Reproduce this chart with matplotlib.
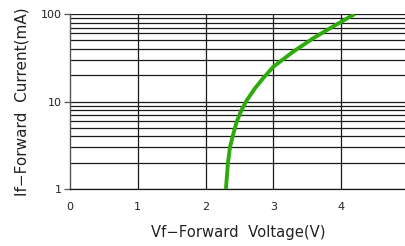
import numpy as np
import matplotlib
matplotlib.use('Agg')
import matplotlib.pyplot as plt

# forward voltage (V) vs forward current (mA)
vf = [2.30, 2.33, 2.36, 2.41, 2.46, 2.53, 2.61, 2.73, 2.85, 3.00, 3.29, 3.59, 3.88, 4.20]
i_f = [1.0, 2.0, 3.0, 4.3, 5.9, 8.0, 10.4, 14.2, 18.5, 25.0, 37.0, 53.0, 72.0, 100.0]

x_ticks = [0, 1, 2, 3, 4]
y_ticks = [1, 10, 100]
y_minor = [m * d for d in (1, 10) for m in range(2, 10)]

fig = plt.figure(figsize=(4.06, 2.46), dpi=100)
ax = fig.add_axes([0.1724, 0.2317, 0.8276, 0.7113])

ax.set_yscale('log')
ax.set_xlim(0, 4.956)
ax.set_ylim(1, 100)

# grid
for y in y_ticks + y_minor:
    ax.axhline(y, color='#1a1a1a', lw=0.9, zorder=1)
for x in x_ticks[1:]:
    ax.axvline(x, color='#1a1a1a', lw=0.9, zorder=1)

ax.plot(vf, i_f, color='#2eaa0a', lw=2.8, solid_capstyle='butt', zorder=3)

ax.set_xticks(x_ticks)
ax.set_xticklabels([str(t) for t in x_ticks])
ax.set_yticks(y_ticks)
ax.set_yticklabels([str(t) for t in y_ticks])
ax.yaxis.set_minor_locator(matplotlib.ticker.NullLocator())
ax.tick_params(axis='x', length=0, pad=9, labelsize=8, labelcolor='#222222')
ax.tick_params(axis='y', length=4, width=0.9, color='#555555', pad=2, labelsize=8,
               labelcolor='#222222')

for s in ['top', 'right']:
    ax.spines[s].set_visible(False)
ax.spines['left'].set_color('#555555')
ax.spines['left'].set_linewidth(1.0)
ax.spines['bottom'].set_color('#1a1a1a')
ax.spines['bottom'].set_linewidth(0.9)

ax.set_xlabel('Vf\u2212Forward  Voltage(V)', fontsize=10.6, labelpad=10, color='#222222')
ax.set_ylabel('If\u2212Forward  Current(mA)', fontsize=11, labelpad=8, color='#222222')

fig.savefig('out.png', dpi=100)
